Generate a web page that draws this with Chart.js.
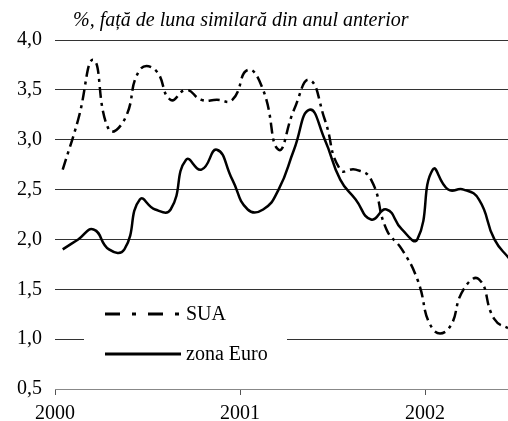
<!DOCTYPE html>
<html>
<head>
<meta charset="utf-8">
<script src="https://cdn.jsdelivr.net/npm/chart.js@4/dist/chart.umd.min.js"></script>
<style>
  html, body { margin: 0; padding: 0; background: #fff; }
  #wrap { width: 508px; height: 421px; }
</style>
</head>
<body>
<div id="wrap"><canvas id="inflChart" width="508" height="421"></canvas></div>
<script>
"use strict"

// luni: ian 2000 - iun 2002
const months = ['I-00','II-00','III-00','IV-00','V-00','VI-00','VII-00','VIII-00','IX-00','X-00','XI-00','XII-00',
  'I-01','II-01','III-01','IV-01','V-01','VI-01','VII-01','VIII-01','IX-01','X-01','XI-01','XII-01',
  'I-02','II-02','III-02','IV-02','V-02','VI-02'];

const sua  = [2.7, 3.2, 3.8, 3.1, 3.2, 3.7, 3.7, 3.4, 3.5, 3.4, 3.4, 3.4,
              3.7, 3.5, 2.9, 3.3, 3.6, 3.2, 2.7, 2.7, 2.6, 2.1, 1.9, 1.6,
              1.1, 1.1, 1.5, 1.6, 1.2, 1.1];
const euro = [1.9, 2.0, 2.1, 1.9, 1.9, 2.4, 2.3, 2.3, 2.8, 2.7, 2.9, 2.6,
              2.3, 2.3, 2.5, 2.9, 3.3, 3.0, 2.6, 2.4, 2.2, 2.3, 2.1, 2.0,
              2.7, 2.5, 2.5, 2.4, 2.0, 1.8];

const yearLabels = ['2000', '2001', '2002'];
const titleText = '%, față de luna similară din anul anterior';

const serif = '"Liberation Serif", "Times New Roman", serif';

function toPoints(arr) {
  return arr.map((v, i) => ({x: i, y: v, m: months[i]}));
}

// titlu + legenda desenate direct pe canvas
const extras = {
  id: 'extras',
  afterDraw(chart) {
    const ctx = chart.ctx;
    ctx.save();
    ctx.fillStyle = '#000';
    ctx.font = 'italic 20px ' + serif;
    ctx.textBaseline = 'alphabetic';
    ctx.textAlign = 'left';
    ctx.fillText(titleText, 73, 26);

    // cutia legendei acopera linia de grila 1,0
    ctx.fillStyle = '#fff';
    ctx.fillRect(84, 296, 203, 76);

    const rows = [
      {ds: chart.data.datasets[0], y: 314, dash: [15, 12, 4, 12]},
      {ds: chart.data.datasets[1], y: 354, dash: []}
    ];
    rows.forEach(r => {
      ctx.beginPath();
      ctx.setLineDash(r.dash);
      ctx.lineWidth = 3;
      ctx.strokeStyle = '#000';
      ctx.moveTo(105, r.y);
      ctx.lineTo(181, r.y);
      ctx.stroke();
      ctx.setLineDash([]);
      ctx.fillStyle = '#000';
      ctx.font = '20px ' + serif;
      ctx.textBaseline = 'middle';
      ctx.fillText(r.ds.label, 186, r.y + 1);
    });
    ctx.restore();
  }
};

const ctx = document.getElementById('inflChart').getContext('2d');
const chart = new Chart(ctx, {
  type: 'line',
  data: {
    datasets: [{
      label: 'SUA',
      data: toPoints(sua),
      borderColor: '#000',
      borderWidth: 2.5,
      borderDash: [11, 5, 3, 5],
      pointRadius: 0,
      tension: 0.5,
      fill: false
    }, {
      label: 'zona Euro',
      data: toPoints(euro),
      borderColor: '#000',
      borderWidth: 2.5,
      pointRadius: 0,
      tension: 0.5,
      fill: false
    }]
  },
  options: {
    responsive: false,
    animation: false,
    devicePixelRatio: 1,
    layout: { padding: { top: 40, left: 0, right: 0, bottom: 0 } },
    plugins: {
      legend: { display: false },
      tooltip: { enabled: false },
      title: { display: false }
    },
    scales: {
      x: {
        type: 'linear',
        min: -0.5,
        max: 28.88,
        afterBuildTicks: scale => {
          scale.ticks = yearLabels.map((y, k) => ({value: k * 12 - 0.5}));
        },
        afterFit: scale => { scale.height = 32; },
        grid: {
          display: true,
          drawOnChartArea: false,
          drawTicks: true,
          tickLength: 6,
          color: '#555',
          lineWidth: 1
        },
        border: { display: true, color: '#888', width: 1 },
        ticks: {
          autoSkip: false,
          maxRotation: 0,
          padding: 7,
          color: '#000',
          font: { family: serif, size: 20 },
          callback: (v, i) => yearLabels[i]
        }
      },
      y: {
        min: 0.5,
        max: 4.0,
        afterFit: scale => { scale.width = 55; },
        grid: {
          color: ctx => ctx.tick && ctx.tick.value === 0.5 ? 'rgba(0,0,0,0)' : '#333',
          lineWidth: 1,
          drawTicks: false
        },
        border: { display: false },
        ticks: {
          stepSize: 0.5,
          padding: 13,
          color: '#000',
          font: { family: serif, size: 20 },
          callback: v => v.toFixed(1).replace('.', ',')
        }
      }
    }
  },
  plugins: [extras]
});
</script>
</body>
</html>
